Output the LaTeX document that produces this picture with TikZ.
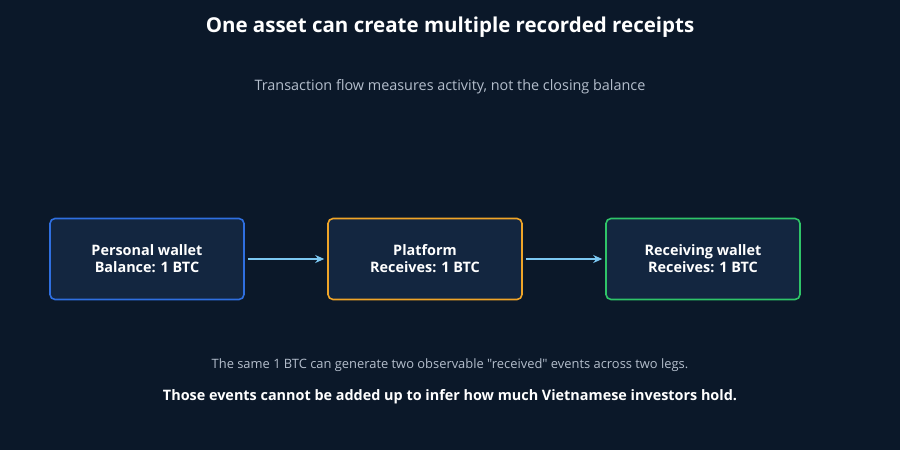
\documentclass[tikz,border=0pt]{standalone}
\usepackage{fontspec}
\setmainfont{Open Sans}[Mapping=]
\usetikzlibrary{arrows.meta}
\definecolor{bg}{HTML}{0B1829}
\definecolor{boxfill}{HTML}{132640}
\definecolor{cblue}{HTML}{2F6FE0}
\definecolor{corange}{HTML}{F0A528}
\definecolor{cgreen}{HTML}{2FC468}
\definecolor{carrow}{HTML}{7CC8F2}
\definecolor{cgray}{HTML}{B4BECC}
\begin{document}
\begin{tikzpicture}[x=1pt,y=-1pt,
  box/.style={draw,line width=1.6pt,rounded corners=5pt,fill=boxfill,minimum width=194pt,minimum height=81pt,text=white,font=\fontsize{14.4}{17}\selectfont\bfseries,align=center},
  arr/.style={draw=carrow,line width=1.6pt,-{Stealth[length=9pt,width=8pt]}}]
\fill[bg] (0,0) rectangle (900,450);
\useasboundingbox (0,0) rectangle (900,450);
\node[text=white,font=\fontsize{20.5}{24}\selectfont\bfseries] (title) at (450,27) {One asset can create multiple recorded receipts};
\node[text=cgray,font=\fontsize{14.4}{17}\selectfont] (sub) at (450,87) {Transaction flow measures activity, not the closing balance};
\node[box,draw=cblue] (a) at (147,259) {Personal wallet\\Balance: 1 BTC};
\node[box,draw=corange] (b) at (425,259) {Platform\\Receives: 1 BTC};
\node[box,draw=cgreen] (c) at (703,259) {Receiving wallet\\Receives: 1 BTC};
\draw[arr] (a.east) ++(3,0) -- ([xshift=-3pt]b.west);
\draw[arr] (b.east) ++(3,0) -- ([xshift=-3pt]c.west);
\node[text=cgray,font=\fontsize{12.9}{15}\selectfont] (n1) at (450,365) {The same 1 BTC can generate two observable "received" events across two legs.};
\node[text=white,font=\fontsize{14.4}{17}\selectfont\bfseries] (n2) at (450,397) {Those events cannot be added up to infer how much Vietnamese investors hold.};
\end{tikzpicture}
\end{document}
